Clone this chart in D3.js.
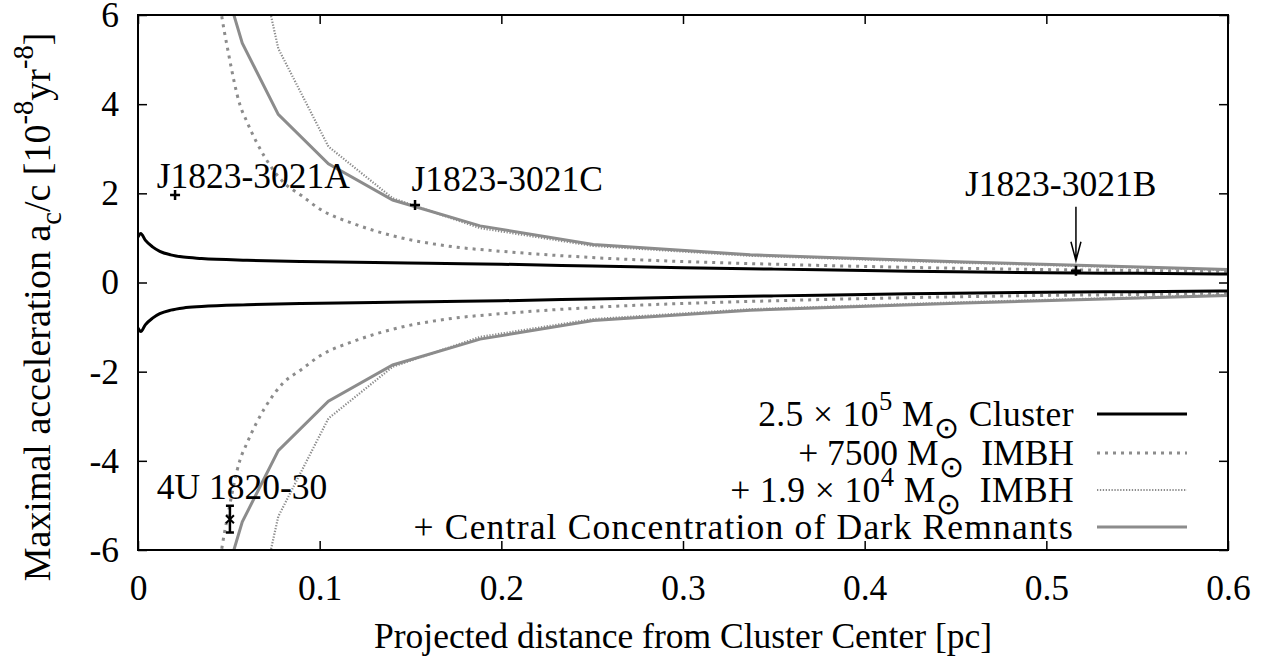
<!DOCTYPE html>
<html>
<head>
<meta charset="utf-8">
<script src="https://cdn.jsdelivr.net/npm/d3@7"></script>
</head>
<body style="margin:0; background:#fff">
<div id="chart"></div>
<script>
// tick values
const xTicks = [0, 0.1, 0.2, 0.3, 0.4, 0.5, 0.6];
const yTicks = [-6, -4, -2, 0, 2, 4, 6];

// 2.5e5 Msun cluster (upper branch, mirrored below)
const clusterR = [0, 0.0015, 0.004, 0.008, 0.012, 0.018, 0.025, 0.035, 0.06, 0.09, 0.13, 0.16, 0.2, 0.25, 0.3, 0.35, 0.4, 0.45, 0.5, 0.55, 0.6];
const clusterA = [1.02, 1.1, 0.95, 0.8, 0.7, 0.62, 0.57, 0.54, 0.5, 0.47, 0.45, 0.43, 0.41, 0.37, 0.33, 0.3, 0.27, 0.24, 0.22, 0.205, 0.19];

// + 7500 Msun IMBH
const imbh1R = [0.042, 0.045, 0.05, 0.056, 0.06, 0.07, 0.08, 0.09, 0.1, 0.12, 0.14, 0.17, 0.2, 0.25, 0.3, 0.35, 0.4, 0.45, 0.5, 0.55, 0.6];
const imbh1A = [7.4, 6.3, 5.1, 4.0, 3.6, 2.8, 2.25, 1.95, 1.65, 1.3, 1.05, 0.82, 0.7, 0.56, 0.47, 0.41, 0.36, 0.32, 0.29, 0.27, 0.25];

// + 1.9e4 Msun IMBH
const imbh2R = [0.0574, 0.0772, 0.1048, 0.1402, 0.1883, 0.2506, 0.337, 0.455, 0.6];
const imbh2A = [8.9, 5.25, 3.05, 1.89, 1.22, 0.82, 0.6, 0.44, 0.28];

// + central concentration of dark remnants
const remnR = [0.0425, 0.0574, 0.0772, 0.1048, 0.1402, 0.1883, 0.2506, 0.337, 0.455, 0.6];
const remnA = [7.4, 5.37, 3.77, 2.66, 1.85, 1.27, 0.85, 0.62, 0.46, 0.29];

// measured objects
const pulsarNames = ["J1823-3021A", "J1823-3021C", "J1823-3021B"];
const pulsarR = [0.0204, 0.1525, 0.5163];
const pulsarA = [1.96, 1.74, 0.265];
const xrbR = 0.0506, xrbA = -5.31, xrbErr = 0.3;

const width = 1267, height = 666;
const margin = { top: 15, right: 39, bottom: 116, left: 138 };
const plotW = width - margin.left - margin.right;
const plotH = height - margin.top - margin.bottom;
const fontSize = 35.5;
const serif = "Liberation Serif";

const svg = d3.select("#chart").append("svg")
  .attr("width", width).attr("height", height)
  .attr("font-family", serif)
  .style("display", "block");

svg.append("defs").append("clipPath").attr("id", "clip")
  .append("rect").attr("width", plotW).attr("height", plotH);

const inner = svg.append("g")
  .attr("transform", `translate(${margin.left},${margin.top})`);

const xScale = d3.scaleLinear().domain([0, 0.6]).range([0, plotW]);
const yScale = d3.scaleLinear().domain([-6, 6]).range([plotH, 0]);

// axes with inward ticks, mirrored
const tick = 9;
const fmt = d => String(d);
inner.append("g").attr("transform", `translate(0,${plotH})`)
  .call(d3.axisBottom(xScale).tickValues(xTicks).tickSize(-tick).tickPadding(tick + 16).tickFormat(fmt));
inner.append("g")
  .call(d3.axisTop(xScale).tickValues(xTicks).tickSize(-tick).tickFormat(""));
inner.append("g")
  .call(d3.axisLeft(yScale).tickValues(yTicks).tickSize(-tick).tickPadding(tick + 10).tickFormat(fmt));
inner.append("g").attr("transform", `translate(${plotW},0)`)
  .call(d3.axisRight(yScale).tickValues(yTicks).tickSize(-tick).tickFormat(""));

inner.selectAll(".domain").remove();
inner.selectAll(".tick line").attr("stroke", "#000").attr("stroke-width", 1.5);
inner.selectAll(".tick text")
  .attr("fill", "#000")
  .attr("font-family", serif)
  .attr("font-size", fontSize);

// curves
const plot = inner.append("g").attr("clip-path", "url(#clip)");

const series = [
  { r: remnR, a: remnA, color: "#8c8c8c", width: 3, dash: null, curve: d3.curveLinear },
  { r: imbh2R, a: imbh2A, color: "#8c8c8c", width: 2.2, dash: "1.3,1.6", curve: d3.curveLinear },
  { r: imbh1R, a: imbh1A, color: "#8c8c8c", width: 3, dash: "3,5", curve: d3.curveMonotoneX },
  { r: clusterR, a: clusterA, color: "#000", width: 3, dash: null, curve: d3.curveMonotoneX }
];

series.forEach(s => {
  [1, -1].forEach(sign => {
    const pts = s.r.map((r, i) => [r, sign * s.a[i]]);
    plot.append("path")
      .datum(pts)
      .attr("fill", "none")
      .attr("stroke", s.color)
      .attr("stroke-width", s.width)
      .attr("stroke-dasharray", s.dash)
      .attr("d", d3.line().x(d => xScale(d[0])).y(d => yScale(d[1])).curve(s.curve));
  });
});

// frame
inner.append("rect")
  .attr("width", plotW).attr("height", plotH)
  .attr("fill", "none").attr("stroke", "#000").attr("stroke-width", 2);

// pulsar markers
const plus = 5;
pulsarR.forEach((r, i) => {
  const px = xScale(r), py = yScale(pulsarA[i]);
  inner.append("path")
    .attr("d", `M${px - plus},${py}H${px + plus}M${px},${py - plus}V${py + plus}`)
    .attr("stroke", "#000").attr("stroke-width", 2.5);
});

// labels
const labelPos = [[156.7 - margin.left, 188 - margin.top], [411.5 - margin.left, 191 - margin.top], [965 - margin.left, 196 - margin.top]];
pulsarNames.forEach((n, i) => {
  inner.append("text")
    .attr("x", labelPos[i][0]).attr("y", labelPos[i][1])
    .attr("font-family", serif).attr("font-size", fontSize)
    .text(n);
});

// arrow for J1823-3021B
const bx = xScale(pulsarR[2]), by = yScale(pulsarA[2]);
inner.append("path")
  .attr("d", `M${bx},${by - 64}V${by - 10}M${bx - 5},${by - 29}L${bx},${by - 10}L${bx + 5},${by - 29}`)
  .attr("fill", "none").attr("stroke", "#000").attr("stroke-width", 1.5);

// 4U 1820-30 with error bar
const ux = xScale(xrbR);
const uy0 = yScale(xrbA - xrbErr), uy1 = yScale(xrbA + xrbErr), uy = yScale(xrbA);
inner.append("path")
  .attr("d", `M${ux},${uy0}V${uy1}M${ux - 4},${uy0}H${ux + 4}M${ux - 4},${uy1}H${ux + 4}`)
  .attr("stroke", "#000").attr("stroke-width", 2.5);
inner.append("path")
  .attr("d", `M${ux - 4},${uy - 4}L${ux + 4},${uy + 4}M${ux - 4},${uy + 4}L${ux + 4},${uy - 4}`)
  .attr("stroke", "#000").attr("stroke-width", 2);
inner.append("text")
  .attr("x", 156.7 - margin.left).attr("y", 499 - margin.top)
  .attr("font-family", serif).attr("font-size", fontSize)
  .text("4U 1820-30");

// legend
const legendRows = [
  [["2.5 × 10", 0], ["5", 1], [" M", 0], ["⊙", -1], [" Cluster", 0]],
  [["+ 7500 M", 0], ["⊙", -1], ["  IMBH", 0]],
  [["+ 1.9 × 10", 0], ["4", 1], [" M", 0], ["⊙", -1], ["  IMBH", 0]],
  [["+ Central Concentration of Dark Remnants", 0]]
];
const legendY = [414, 453, 490, 527];
const legendSpacing = [0.4, 0, 0.4, 1.2];

legendRows.forEach((row, i) => {
  const t = svg.append("text")
    .attr("x", 1074).attr("y", legendY[i] + 12)
    .attr("text-anchor", "end")
    .attr("font-family", serif).attr("font-size", fontSize)
    .attr("letter-spacing", legendSpacing[i])
    .style("white-space", "pre");
  let shift = 0;
  row.forEach(([str, kind]) => {
    const target = kind === 1 ? -0.45 : kind === -1 ? 0.35 : 0;
    const ts = t.append("tspan")
      .attr("dy", ((target - shift) * fontSize).toFixed(1))
      .text(str);
    if (kind === 1) ts.attr("font-size", fontSize * 0.75);
    if (kind === -1) ts.attr("font-size", fontSize * 0.85);
    shift = target;
  });
  const s = series[3 - i];
  svg.append("line")
    .attr("x1", 1097).attr("x2", 1187)
    .attr("y1", legendY[i]).attr("y2", legendY[i])
    .attr("stroke", s.color)
    .attr("stroke-width", s.width)
    .attr("stroke-dasharray", s.dash);
});

// axis titles
svg.append("text")
  .attr("x", margin.left + plotW / 2).attr("y", 648)
  .attr("text-anchor", "middle")
  .attr("font-family", serif).attr("font-size", fontSize)
  .text("Projected distance from Cluster Center [pc]");

const yFont = 38;
const yt = svg.append("text")
  .attr("transform", "translate(50,307) rotate(-90)")
  .attr("text-anchor", "middle")
  .attr("font-family", serif).attr("font-size", yFont);
yt.append("tspan").text("Maximal acceleration a");
yt.append("tspan").attr("dy", 0.3 * yFont).attr("font-size", yFont * 0.75).text("c");
yt.append("tspan").attr("dy", -0.3 * yFont).text("/c [10");
yt.append("tspan").attr("dy", -0.45 * yFont).attr("font-size", yFont * 0.75).text("-8");
yt.append("tspan").attr("dy", 0.45 * yFont).text("yr");
yt.append("tspan").attr("dy", -0.45 * yFont).attr("font-size", yFont * 0.75).text("-8");
yt.append("tspan").attr("dy", 0.45 * yFont).text("]");
</script>
</body>
</html>
